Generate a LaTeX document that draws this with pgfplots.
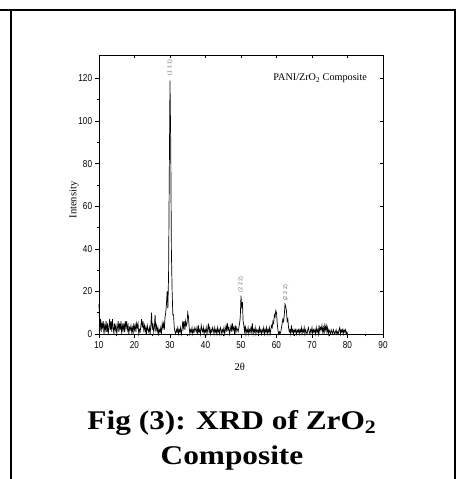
\documentclass[border=0pt]{standalone}
\usepackage{fontspec}
\setmainfont{Liberation Serif}
\newfontfamily\arial{Liberation Sans}
\usepackage{pgfplots}
\pgfplotsset{compat=1.18}
\begin{document}
\begin{tikzpicture}[x=1pt,y=1pt]
\useasboundingbox (0,0) rectangle (457,479);
\draw[line width=2pt] (0,469) -- (455,469);
\draw[line width=2pt] (11,469) -- (11,0);
\draw[line width=2pt] (455,470) -- (455,0);
\begin{axis}[
  at={(99pt,145pt)}, anchor=south west,
  scale only axis, width=284pt, height=279pt,
  xmin=10, xmax=90, ymin=0, ymax=131,
  xtick={10,20,...,90}, ytick={0,20,...,120},
  minor x tick num=1, minor y tick num=1,
  axis x line*=bottom, axis y line*=left,
  tick align=outside,
  major tick length=4pt, minor tick length=2.5pt,
  tick style={black, line width=0.6pt},
  axis line style={line width=0.8pt},
  /pgf/number format/assume math mode=true,
  ticklabel style={font=\arial\fontsize{10}{11}\selectfont, xscale=0.82},
  xlabel={2θ}, ylabel={Intensity},
  label style={font=\fontsize{10.5}{11}\selectfont},
  xlabel style={at={(axis description cs:0.496,-0.118)},anchor=center},
  ylabel style={at={(axis description cs:-0.088,0.48)},anchor=center},
  clip=false,
]
\addplot[black, line width=0.7pt] coordinates {
(10.0,14)(10.2,2)(10.4,7)(10.6,1)(10.8,5)(11.0,3)(11.2,6)(11.4,0)(11.6,4)(11.8,2)
(12.0,6)(12.2,1)(12.4,5)(12.6,0)(12.8,3)(13.0,7)(13.2,2)(13.4,6)(13.6,1)(13.8,7)
(14.0,3)(14.2,0)(14.4,5)(14.6,2)(14.8,4)(15.0,0)(15.2,3)(15.4,6)(15.6,1)(15.8,5)
(16.0,2)(16.2,6)(16.4,0)(16.6,4)(16.8,2)(17.0,5)(17.2,1)(17.4,6)(17.6,3)(17.8,6)
(18.0,2)(18.2,4)(18.4,0)(18.6,3)(18.8,2)(19.0,4)(19.2,1)(19.4,3)(19.6,0)(19.8,5)
(20.0,2)(20.2,4)(20.4,1)(20.6,5)(20.8,3)(21.0,5)(21.2,0)(21.4,2)(21.6,1)(21.8,4)
(22.0,7)(22.2,3)(22.4,6)(22.6,2)(22.8,4)(23.0,1)(23.2,3)(23.4,0)(23.6,4)(23.8,2)
(24.0,1)(24.2,3)(24.4,0)(24.6,4)(24.8,10)(25.0,2)(25.2,5)(25.4,1)(25.6,3)(25.8,9)
(26.0,2)(26.2,4)(26.4,1)(26.6,3)(26.8,0)(27.0,2)(27.2,1)(27.4,3)(27.6,0)(27.8,5)
(28.0,3)(28.2,5)(28.4,2)(28.6,8)(28.8,10)(29.0,14)(29.2,20)(29.4,12)(29.6,28)(29.8,75)
(30.0,119)(30.2,90)(30.4,38)(30.6,20)(30.8,9)(31.0,9)(31.2,3)(31.4,1)(31.6,0)(31.8,2)
(32.0,1)(32.2,3)(32.4,0)(32.6,2)(32.8,1)(33.0,3)(33.2,0)(33.4,2)(33.6,6)(33.8,3)
(34.0,6)(34.2,2)(34.4,6)(34.6,4)(34.8,5)(35.0,10)(35.2,8)(35.4,3)(35.6,0)(35.8,2)
(36.0,1)(36.2,3)(36.4,0)(36.6,2)(36.8,1)(37.0,3)(37.2,2)(37.4,1)(37.6,3)(37.8,0)
(38.0,4)(38.2,1)(38.4,2)(38.6,0)(38.8,4)(39.0,2)(39.2,1)(39.4,3)(39.6,0)(39.8,2)
(40.0,1)(40.2,3)(40.4,0)(40.6,2)(40.8,5)(41.0,1)(41.2,3)(41.4,0)(41.6,2)(41.8,1)
(42.0,3)(42.2,2)(42.4,0)(42.6,3)(42.8,1)(43.0,2)(43.2,0)(43.4,3)(43.6,1)(43.8,2)
(44.0,0)(44.2,3)(44.4,2)(44.6,0)(44.8,2)(45.0,1)(45.2,3)(45.4,0)(45.6,2)(45.8,4)
(46.0,1)(46.2,5)(46.4,2)(46.6,3)(46.8,0)(47.0,2)(47.2,4)(47.4,1)(47.6,5)(47.8,2)
(48.0,3)(48.2,0)(48.4,4)(48.6,1)(48.8,3)(49.0,2)(49.2,1)(49.4,3)(49.6,5)(49.8,8)
(50.0,18)(50.2,12)(50.4,15)(50.6,6)(50.8,4)(51.0,1)(51.2,4)(51.4,0)(51.6,2)(51.8,1)
(52.0,3)(52.2,0)(52.4,2)(52.6,1)(52.8,3)(53.0,1)(53.2,5)(53.4,0)(53.6,2)(53.8,1)
(54.0,3)(54.2,0)(54.4,2)(54.6,1)(54.8,2)(55.0,0)(55.2,3)(55.4,1)(55.6,2)(55.8,0)
(56.0,2)(56.2,1)(56.4,3)(56.6,0)(56.8,2)(57.0,1)(57.2,3)(57.4,0)(57.6,2)(57.8,1)
(58.0,3)(58.2,0)(58.4,2)(58.6,4)(58.8,3)(59.0,6)(59.2,5)(59.4,9)(59.6,8)(59.8,11)
(60.0,10)(60.2,5)(60.4,2)(60.6,0)(60.8,1)(61.0,0)(61.2,1)(61.4,3)(61.6,5)(61.8,7)
(62.0,6)(62.2,9)(62.4,14)(62.6,13)(62.8,11)(63.0,6)(63.2,7)(63.4,3)(63.6,1)(63.8,2)
(64.0,0)(64.2,4)(64.4,1)(64.6,2)(64.8,0)(65.0,2)(65.2,1)(65.4,2)(65.6,0)(65.8,2)
(66.0,1)(66.2,2)(66.4,0)(66.6,2)(66.8,1)(67.0,3)(67.2,0)(67.4,2)(67.6,1)(67.8,3)
(68.0,0)(68.2,2)(68.4,1)(68.6,0)(68.8,2)(69.0,3)(69.2,1)(69.4,0)(69.6,2)(69.8,1)
(70.0,3)(70.2,0)(70.4,2)(70.6,1)(70.8,2)(71.0,0)(71.2,3)(71.4,1)(71.6,2)(71.8,0)
(72.0,4)(72.2,1)(72.4,3)(72.6,2)(72.8,4)(73.0,1)(73.2,3)(73.4,0)(73.6,4)(73.8,2)
(74.0,4)(74.2,1)(74.4,3)(74.6,0)(74.8,2)(75.0,1)(75.2,0)(75.4,2)(75.6,1)(75.8,0)
(76.0,2)(76.2,1)(76.4,0)(76.6,1)(76.8,2)(77.0,0)(77.2,1)(77.4,0)(77.6,2)(77.8,3)
(78.0,0)(78.2,2)(78.4,1)(78.6,2)(78.8,0)(79.0,2)(79.2,1)(79.4,2)(79.6,0)(79.8,1)
(80.0,0)
};
\node[font=\fontsize{10.2}{11}\selectfont, anchor=center] at (axis cs:72.3,120) {PANI/ZrO\textsubscript{2} Composite};
\node[font=\arial\fontsize{5.5}{6}\selectfont, text=black!60, rotate=90, anchor=west, inner sep=1pt] at (axis cs:30,121) {(1 1 1)};
\node[font=\arial\fontsize{5.5}{6}\selectfont, text=black!60, rotate=90, anchor=west, inner sep=1pt] at (axis cs:50,19) {(2 2 2)};
\node[font=\arial\fontsize{5.5}{6}\selectfont, text=black!60, rotate=90, anchor=west, inner sep=1pt] at (axis cs:62.6,15) {(2 2 2)};
\end{axis}
\begin{axis}[
  at={(99pt,145pt)}, anchor=south west,
  scale only axis, width=284pt, height=279pt,
  xmin=10, xmax=90, ymin=0, ymax=131,
  xtick={10,20,...,90}, ytick={0,20,...,120},
  axis x line*=top, axis y line*=right,
  tick align=inside,
  major tick length=3pt,
  tick style={black, line width=0.5pt},
  axis line style={line width=0.8pt},
  xticklabels={}, yticklabels={},
]
\end{axis}
\node[font=\bfseries\fontsize{27}{30}\selectfont, anchor=base, xscale=1.16] at (232,49) {Fig (3): XRD of ZrO\textsubscript{2}};
\node[font=\bfseries\fontsize{27}{30}\selectfont, anchor=base, xscale=1.16] at (232,14) {Composite};
\end{tikzpicture}
\end{document}
